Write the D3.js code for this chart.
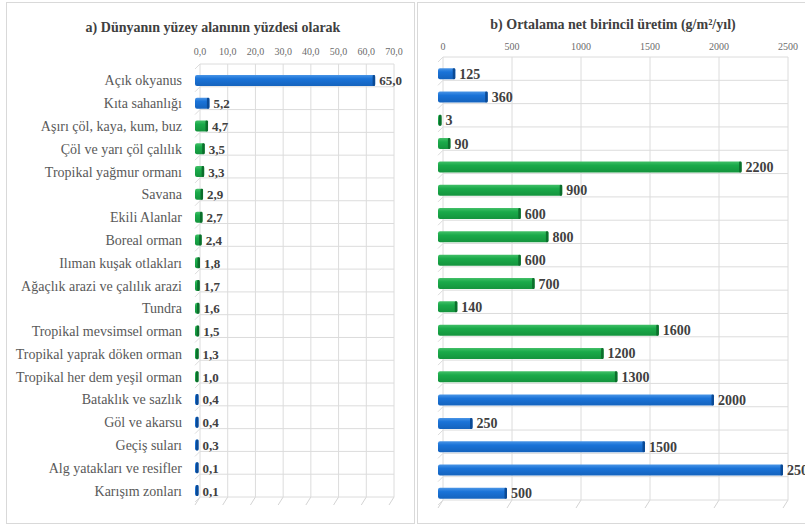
<!DOCTYPE html>
<html>
<head>
<meta charset="utf-8">
<script src="https://cdn.jsdelivr.net/npm/d3@7"></script>
<style>
  body { margin: 0; background: #fff; }
  svg text { font-family: "Liberation Serif", "Times New Roman", "DejaVu Serif", serif; }
</style>
</head>
<body>
<div id="chart"></div>
<script>
const categories = [
  "Açık okyanus", "Kıta sahanlığı", "Aşırı çöl, kaya, kum, buz", "Çöl ve yarı çöl çalılık",
  "Tropikal yağmur ormanı", "Savana", "Ekili Alanlar", "Boreal orman", "Ilıman kuşak otlakları",
  "Ağaçlık arazi ve çalılık arazi", "Tundra", "Tropikal mevsimsel orman", "Tropikal yaprak döken orman",
  "Tropikal her dem yeşil orman", "Bataklık ve sazlık", "Göl ve akarsu", "Geçiş suları",
  "Alg yatakları ve resifler", "Karışım zonları"
];
const groups = [
  "su", "su", "kara", "kara", "kara", "kara", "kara", "kara", "kara", "kara",
  "kara", "kara", "kara", "kara", "su", "su", "su", "su", "su"
];
const areaPercent = [65.0, 5.2, 4.7, 3.5, 3.3, 2.9, 2.7, 2.4, 1.8, 1.7, 1.6, 1.5, 1.3, 1.0, 0.4, 0.4, 0.3, 0.1, 0.1];
const netProduction = [125, 360, 3, 90, 2200, 900, 600, 800, 600, 700, 140, 1600, 1200, 1300, 2000, 250, 1500, 2500, 500];
const areaTicks = [0, 10, 20, 30, 40, 50, 60, 70];
const prodTicks = [0, 500, 1000, 1500, 2000, 2500];

const width = 805, height = 527;
const svg = d3.select("#chart").append("svg").attr("width", width).attr("height", height)
  .attr("font-family", "'Liberation Serif', 'Times New Roman', serif");

const defs = svg.append("defs");
function grad(id, top, mid, bot) {
  const g = defs.append("linearGradient").attr("id", id).attr("x1", 0).attr("y1", 0).attr("x2", 0).attr("y2", 1);
  g.append("stop").attr("offset", "0%").attr("stop-color", top);
  g.append("stop").attr("offset", "35%").attr("stop-color", mid);
  g.append("stop").attr("offset", "100%").attr("stop-color", bot);
}
grad("g-su", "#4a95e6", "#1a73d8", "#1563bd");
grad("g-kara", "#42c068", "#1aaa4a", "#14943d");
const capColor = { su: "#0b4a95", kara: "#0c6e2c" };

// panels
svg.append("rect").attr("x", 6.5).attr("y", 2.5).attr("width", 408).attr("height", 521)
  .attr("fill", "#fff").attr("stroke", "#d9d9d9");
svg.append("rect").attr("x", 417.5).attr("y", 2.5).attr("width", 390).attr("height", 521)
  .attr("fill", "#fff").attr("stroke", "#d9d9d9");

function drawPanel(opt) {
  const g = svg.append("g");
  const dx = 5, dy = -5;
  const x = d3.scaleLinear().domain(opt.domain).range(opt.xRange);
  const y = d3.scaleBand().domain(categories).range(opt.yRange).paddingInner(0).paddingOuter(0);
  const top = opt.yRange[0] + dy, bottom = opt.yRange[1] + dy;

  // back wall grid
  opt.ticks.forEach(t => {
    g.append("line").attr("x1", x(t) + dx).attr("x2", x(t) + dx).attr("y1", top).attr("y2", bottom)
      .attr("stroke", "#dcdcdc").attr("stroke-width", 1);
    g.append("line").attr("x1", x(t) + dx).attr("x2", x(t)).attr("y1", bottom).attr("y2", bottom - dy + 3)
      .attr("stroke", "#d4d4d4");
  });
  const bounds = categories.map(c => y(c)).concat([opt.yRange[1]]);
  bounds.forEach(b => {
    g.append("line").attr("x1", x(0) + dx).attr("x2", x(opt.domain[1]) + dx)
      .attr("y1", b + dy).attr("y2", b + dy).attr("stroke", "#dcdcdc");
    g.append("line").attr("x1", x(0) + dx).attr("x2", x(0)).attr("y1", b + dy).attr("y2", b)
      .attr("stroke", "#dcdcdc");
  });

  // tick labels
  g.selectAll(".tick-lbl").data(opt.ticks).enter().append("text")
    .attr("x", d => x(d) + dx).attr("y", opt.tickY)
    .attr("text-anchor", "middle").attr("font-size", 10).attr("fill", "#6b6b6b")
    .text(opt.tickFmt);

  // title
  g.append("text").attr("x", opt.titleX).attr("y", opt.titleY).attr("text-anchor", "middle")
    .attr("font-size", 14).attr("font-weight", "bold").attr("fill", "#404040").text(opt.title);

  // bars
  const bh = 11;
  const w = v => Math.max(3.5, x(v) - x(0));
  const rows = categories.map((c, i) => ({ c, v: opt.values[i], grp: groups[i] }));
  const bars = g.selectAll(".bar").data(rows).enter().append("g");
  bars.append("rect")
    .attr("x", x(0)).attr("y", d => y(d.c) + y.bandwidth() / 2 - bh / 2)
    .attr("width", d => w(d.v)).attr("height", bh).attr("rx", 2)
    .attr("fill", d => `url(#g-${d.grp})`);
  bars.append("rect")
    .attr("x", d => x(0) + w(d.v) - 2.5).attr("y", d => y(d.c) + y.bandwidth() / 2 - bh / 2)
    .attr("width", 2.5).attr("height", bh).attr("rx", 1)
    .attr("fill", d => capColor[d.grp]);
  bars.append("text")
    .attr("x", d => x(0) + w(d.v) + 4)
    .attr("y", d => y(d.c) + y.bandwidth() / 2 + 5)
    .attr("font-size", opt.valSize).attr("font-weight", "bold").attr("fill", "#404040")
    .text(d => opt.valFmt(d.v));

  if (opt.showCats) {
    g.selectAll(".cat").data(categories).enter().append("text")
      .attr("x", 182).attr("y", d => y(d) + y.bandwidth() / 2 + 5)
      .attr("text-anchor", "end").attr("font-size", 14).attr("fill", "#595959")
      .text(d => d);
  }
}

const comma1 = v => v.toFixed(1).replace(".", ",");

drawPanel({
  values: areaPercent, domain: [0, 70], ticks: areaTicks, xRange: [195, 389], yRange: [69, 502],
  tickY: 55, tickFmt: comma1, valFmt: comma1, valSize: 13, showCats: true,
  title: "a) Dünyanın yüzey alanının yüzdesi olarak", titleX: 213, titleY: 32
});
drawPanel({
  values: netProduction, domain: [0, 2500], ticks: prodTicks, xRange: [438, 783], yRange: [62, 505],
  tickY: 50, tickFmt: d => d, valFmt: d => d, valSize: 14, showCats: false,
  title: "b) Ortalama net birincil üretim (g/m²/yıl)", titleX: 613, titleY: 29
});
</script>
</body>
</html>
